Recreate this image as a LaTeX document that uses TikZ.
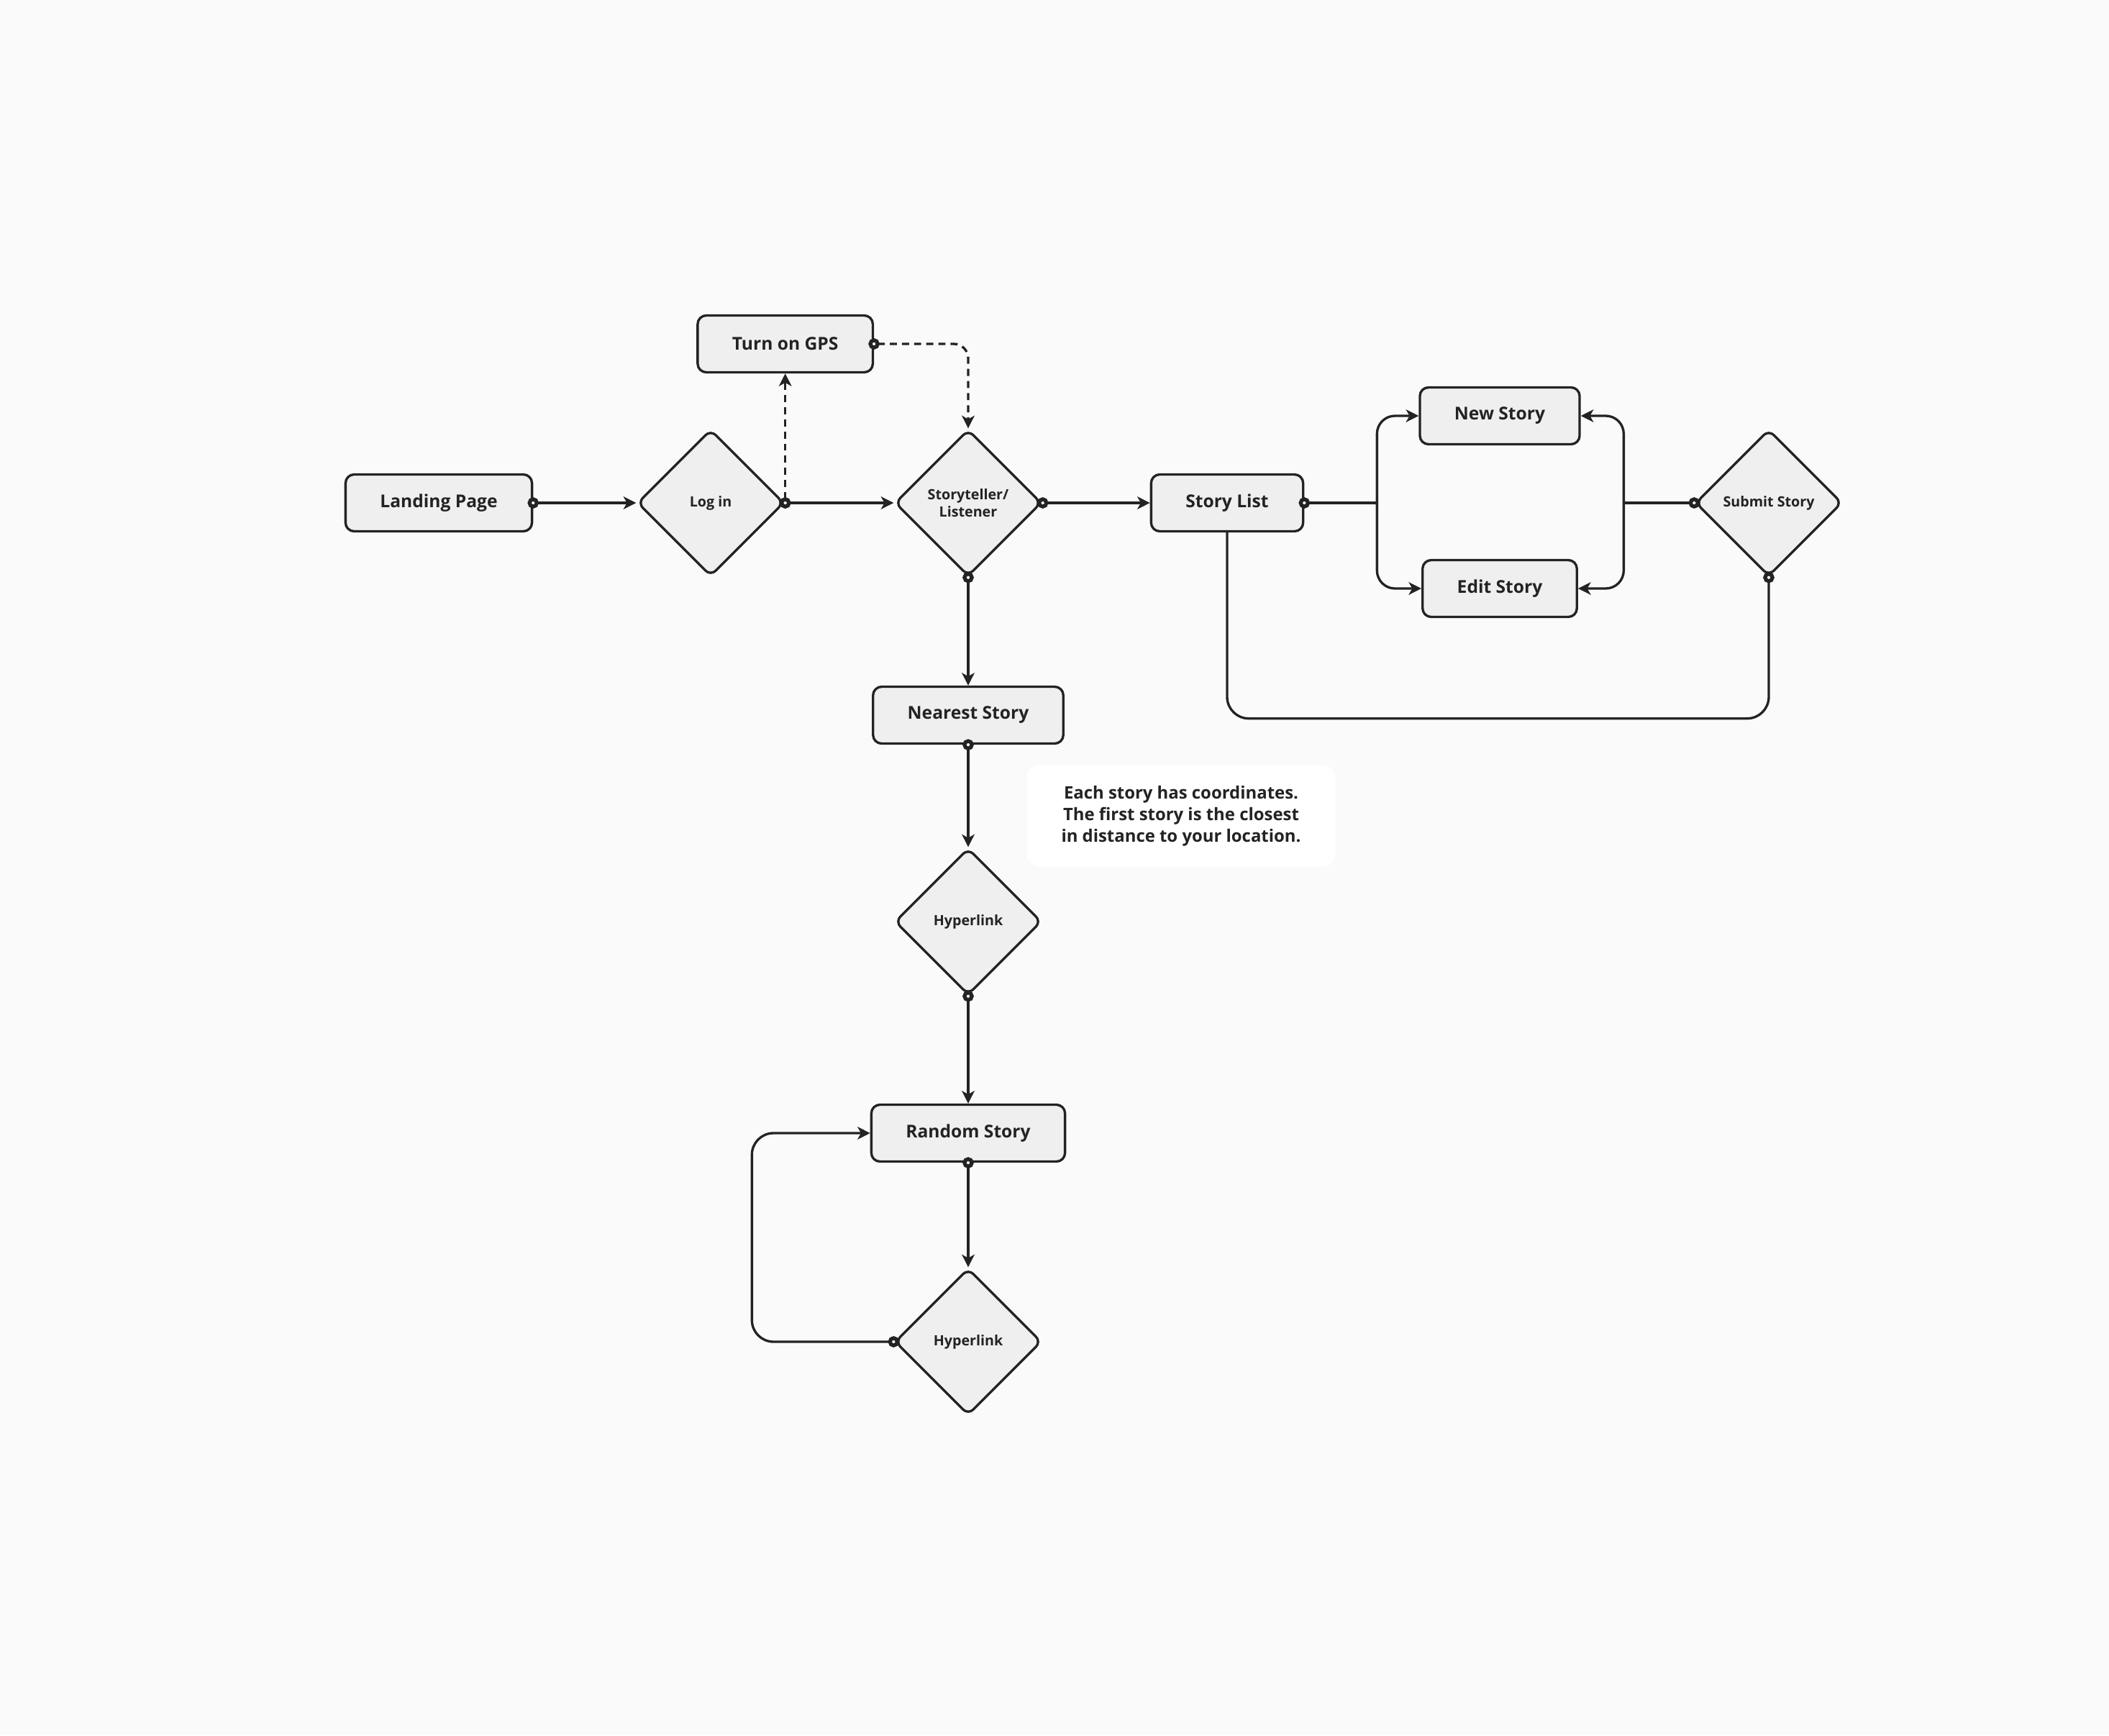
\documentclass[tikz,border=0pt]{standalone}
\usepackage{fontspec}
\setmainfont{Open Sans}
\usetikzlibrary{shapes.geometric,arrows.meta,positioning}
\definecolor{canvas}{HTML}{FAFAFA}
\definecolor{boxfill}{HTML}{EFEFEF}
\definecolor{ink}{HTML}{232323}

\begin{document}
\begin{tikzpicture}[
    on grid,
    line width=0.95pt,
    block/.style={draw=ink, rounded corners=0.12cm, fill=boxfill, minimum height=0.79cm, inner xsep=0.48cm, text=ink, font=\fontsize{7}{8.4}\selectfont\bfseries},
    decision/.style={draw=ink, diamond, aspect=1, rounded corners=0.1cm, fill=boxfill, minimum width=2.04cm, minimum height=2.04cm, inner sep=0pt, align=center, text=ink, font=\fontsize{5.6}{6.9}\selectfont\bfseries},
    memo/.style={fill=white, rounded corners=0.18cm, minimum width=4.29cm, minimum height=1.41cm, align=center, text=ink, font=\fontsize{6.8}{8.5}\selectfont\bfseries},
    arrow/.style={draw=ink, {Circle[fill=white, length=4.4pt, line width=1.5pt]}-{Stealth[length=5pt, width=5pt, inset=1.4pt]}, shorten <=-2.2pt},
    plain/.style={draw=ink, {Circle[fill=white, length=4.4pt, line width=1.5pt]}-, shorten <=-2.2pt},
    into/.style={draw=ink, -{Stealth[length=5pt, width=5pt, inset=1.4pt]}},
    dashline/.style={dash pattern=on 2.8pt off 2pt}
]
    \fill[canvas] (-6.10,6.99) rectangle (23.22,-17.13);
    \useasboundingbox (-6.10,6.99) rectangle (23.22,-17.13);

    % main row
    \node[block] (landing) at (0,0) {Landing Page};
    \node[decision, right=3.78cm of landing] (login) {Log in};
    \node[block] (gps) at ([yshift=2.21cm]login.east) {Turn on GPS};
    \node[decision, right=3.58cm of login] (teller) {Storyteller/\\Listener};
    \node[block, right=3.6cm of teller] (list) {Story List};
    \node[block, above right=1.21cm and 3.79cm of list] (new) {New Story};
    \node[block, below=2.4cm of new] (edit) {Edit Story};
    \node[decision, right=7.53cm of list] (submit) {Submit Story};

    % listener column
    \node[block, below=2.95cm of teller] (nearest) {Nearest Story};
    \node[memo, below right=1.4cm and 2.96cm of nearest] (hint) {Each story has coordinates.\\The first story is the closest\\in distance to your location.};
    \node[decision, below=2.87cm of nearest] (link1) {Hyperlink};
    \node[block, below=2.94cm of link1] (random) {Random Story};
    \node[decision, below=2.9cm of random] (link2) {Hyperlink};

    \draw[arrow] (landing.east) -- (login.west);
    \draw[arrow] (login.east) -- (teller.west);
    \draw[arrow, dashline] (login.east) -- (gps.south);
    \draw[arrow, dashline, rounded corners=0.2cm] (gps.east) -| (teller.north);
    \draw[arrow] (teller.east) -- (list.west);
    \draw[arrow] (teller.south) -- (nearest.north);

    % story list branches
    \path (list.east) ++(1.01,0) coordinate (fork);
    \path (submit.west) ++(-0.98,0) coordinate (join);
    \draw[plain] (list.east) -- (fork);
    \draw[into, rounded corners=0.25cm] (fork) |- (new.west);
    \draw[into, rounded corners=0.25cm] (fork) |- (edit.west);
    \draw[plain] (submit.west) -- (join);
    \draw[into, rounded corners=0.25cm] (join) |- (new.east);
    \draw[into, rounded corners=0.25cm] (join) |- (edit.east);
    \draw[plain, rounded corners=0.3cm] (submit.south) -- ++(0,-1.96) -| (list.south);

    \draw[arrow] (nearest.south) -- (link1.north);
    \draw[arrow] (link1.south) -- (random.north);
    \draw[arrow] (random.south) -- (link2.north);
    \draw[arrow, rounded corners=0.3cm] (link2.west) -- ++(-1.97,0) |- (random.west);
\end{tikzpicture}
\end{document}
